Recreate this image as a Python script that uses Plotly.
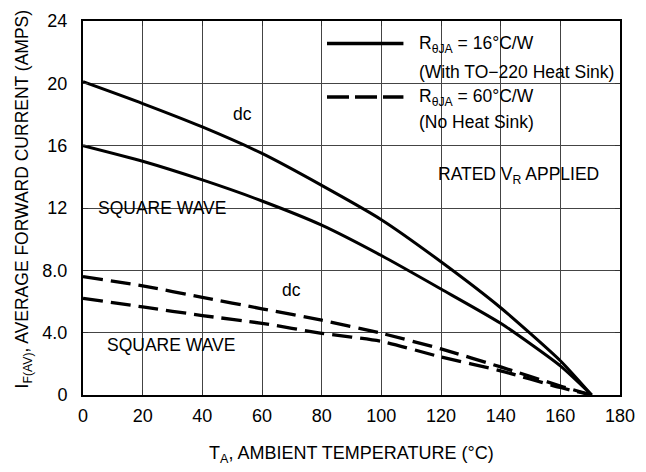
import plotly.graph_objects as go

# ---- data ----
temp = [0, 20, 40, 60, 80, 100, 120, 140, 160, 170.5]
dc_heatsink = [20.1, 18.7, 17.2, 15.5, 13.45, 11.25, 8.55, 5.6, 2.2, 0]
sq_heatsink = [16.0, 15.0, 13.8, 12.45, 10.9, 8.95, 6.8, 4.6, 1.87, 0]
dc_noheatsink = [7.6, 7.0, 6.27, 5.53, 4.8, 3.96, 2.96, 1.8, 0.58, 0]
sq_noheatsink = [6.2, 5.65, 5.1, 4.6, 3.96, 3.44, 2.44, 1.55, 0.48, 0]

x_ticks = [0, 20, 40, 60, 80, 100, 120, 140, 160, 180]
y_ticks = [0, 4, 8, 12, 16, 20, 24]
y_ticktext = ["0", "4.0", "8.0", "12", "16", "20", "24"]

FONT = "Liberation Sans Narrow, Arial Narrow, Liberation Sans, Arial, sans-serif"
W, H = 646, 472
ML, MR, MT, MB = 83, 15, 11, 77
PW, PH = W - ML - MR, H - MT - MB


def px(x):
    return (x - ML) / PW


def py(y):
    return (H - MB - y) / PH


fig = go.Figure()
solid = dict(color="black", width=3)
dashed = dict(color="black", width=3.3, dash="20px,8px")
for ys, ln in [(dc_heatsink, solid), (sq_heatsink, solid),
               (dc_noheatsink, dashed), (sq_noheatsink, dashed)]:
    fig.add_trace(go.Scatter(x=temp, y=ys, mode="lines",
                             line=dict(shape="spline", smoothing=0.6, **ln),
                             showlegend=False, hoverinfo="skip"))

shapes = []
# white backgrounds (between grid and traces)
for x0, x1, y0, y1 in [(317, 625, 11, 137), (87, 233, 187, 218),
                       (98, 242, 327, 359), (441, 615, 157, 183)]:
    shapes.append(dict(type="rect", xref="paper", yref="paper",
                       x0=px(x0), x1=px(x1), y0=py(y1), y1=py(y0),
                       fillcolor="white", line=dict(width=0), layer="between"))
# legend samples
shapes.append(dict(type="line", xref="paper", yref="paper",
                   x0=px(332), x1=px(410), y0=py(34), y1=py(34),
                   line=dict(color="black", width=3.5)))
shapes.append(dict(type="line", xref="paper", yref="paper",
                   x0=px(332), x1=px(410), y0=py(89), y1=py(89),
                   line=dict(color="black", width=3.5, dash="22px,6px")))

tf = dict(family=FONT, size=18, color="black")
lf = dict(family=FONT, size=17.5, color="black")
ann = []


def add(text, x, y, xref="x", yref="y", xanchor="center", font=lf, **kw):
    ann.append(dict(text=text, x=x, y=y, xref=xref, yref=yref,
                    xanchor=xanchor, yanchor="middle", showarrow=False,
                    font=font, **kw))


add("R<sub>θJA</sub> = 16°C/W", px(424), py(35), "paper", "paper", "left")
add("(With TO−220 Heat Sink)", px(424), py(63), "paper", "paper", "left")
add("R<sub>θJA</sub> = 60°C/W", px(424), py(90), "paper", "paper", "left")
add("(No Heat Sink)", px(424), py(115), "paper", "paper", "left")
add("dc", 53.5, 18.06)
add("dc", 69.8, 6.75)
add("SQUARE WAVE", 26.6, 11.97)
add("SQUARE WAVE", 29.6, 3.2)
add("RATED V<sub>R</sub> APPLIED", 145.9, 14.06)
add("T<sub>A</sub>, AMBIENT TEMPERATURE (°C)", 0.5, py(456), "paper", "paper", font=tf)
add("I<sub>F(AV)</sub>, AVERAGE FORWARD CURRENT (AMPS)", px(22), py(194),
    "paper", "paper", textangle=-90, font=lf)

axis_common = dict(showline=True, linecolor="black", linewidth=2, mirror="allticks",
                   ticks="inside", ticklen=5, tickcolor="#333", tickwidth=1,
                   showgrid=True, gridcolor="#444", gridwidth=1, zeroline=False,
                   tickfont=tf, ticklabeloverflow="allow")

fig.update_layout(
    width=W, height=H, margin=dict(l=ML, r=MR, t=MT, b=MB),
    paper_bgcolor="white", plot_bgcolor="white",
    xaxis=dict(range=[0, 180], tickvals=x_ticks, ticklabelstandoff=3, **axis_common),
    yaxis=dict(range=[0, 24], tickvals=y_ticks, ticktext=y_ticktext,
               ticklabelstandoff=10, **axis_common),
    shapes=shapes, annotations=ann, showlegend=False,
)
fig.write_html("out.html", config={"displayModeBar": False},
               post_script="document.body.style.margin='0';document.body.style.overflow='hidden';")
